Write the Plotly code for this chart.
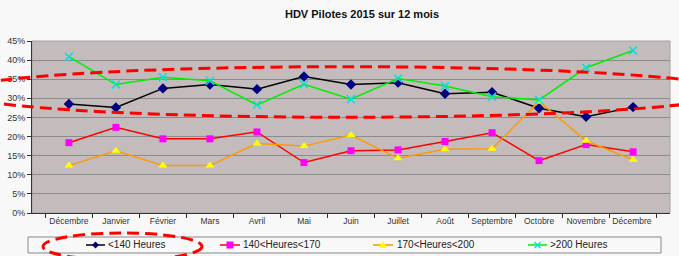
import plotly.graph_objects as go

months = ["Décembre", "Janvier", "Février", "Mars", "Avril", "Mai", "Juin",
          "Juillet", "Août", "Septembre", "Octobre", "Novembre", "Décembre "]
s_lt140 = [0.285, 0.276, 0.326, 0.336, 0.324, 0.357, 0.336, 0.341, 0.312, 0.316, 0.274, 0.252, 0.277]
s_140_170 = [0.184, 0.224, 0.194, 0.194, 0.212, 0.132, 0.163, 0.165, 0.187, 0.210, 0.137, 0.179, 0.160]
s_170_200 = [0.124, 0.163, 0.124, 0.124, 0.182, 0.175, 0.204, 0.143, 0.167, 0.168, 0.292, 0.189, 0.139]
s_gt200 = [0.409, 0.336, 0.355, 0.346, 0.283, 0.337, 0.298, 0.352, 0.332, 0.304, 0.296, 0.380, 0.425]
names = ["<140 Heures", "140<Heures<170", "170<Heures<200", ">200 Heures"]
yticks = [0, 0.05, 0.10, 0.15, 0.20, 0.25, 0.30, 0.35, 0.40, 0.45]

W, H = 679, 256
L, R, T, B = 32, 670, 41, 213

def px(x):
    return (x - L) / (R - L)

def py(y):
    return (B - y) / (B - T)

line_cols = ["#000000", "#ff0000", "#ff9900", "#00ee00"]
mark_cols = ["#000080", "#ff00ff", "#ffff00", "#00e0e0"]
symbols = ["diamond", "square", "triangle-up", "x-thin"]
sizes = [8, 7, 8, 8]
series = [s_lt140, s_140_170, s_170_200, s_gt200]

fig = go.Figure()
for s, nm, lc, mc, sym, sz in zip(series, names, line_cols, mark_cols, symbols, sizes):
    mk = dict(symbol=sym, size=sz, color=mc)
    if sym == "x-thin":
        mk["line"] = dict(color=mc, width=1.5)
    fig.add_trace(go.Scatter(x=months, y=s, name=nm, mode="lines+markers",
                             line=dict(color=lc, width=1.5), marker=mk, showlegend=False))

shapes = [
    dict(type="rect", xref="paper", yref="paper", x0=0, x1=1, y0=0, y1=1,
         line=dict(color="#a0a4a0", width=1), layer="below"),
    dict(type="rect", xref="paper", yref="paper", x0=px(28), x1=px(661), y0=py(253), y1=py(237),
         line=dict(color="#888888", width=1)),
]
annotations = []

# manual legend (positions in pixels)
leg_line_x = [(86, 105), (220, 240), (373, 393), (528, 547)]
leg_text_x = [106, 241, 395, 548]
ly = 245

def path(points, close=True):
    d = "M" + " L".join(f"{px(x):.5f},{py(y):.5f}" for x, y in points)
    return d + (" Z" if close else "")

for i, ((xa, xb), tx) in enumerate(zip(leg_line_x, leg_text_x)):
    shapes.append(dict(type="line", xref="paper", yref="paper", x0=px(xa), x1=px(xb),
                       y0=py(ly), y1=py(ly), line=dict(color=line_cols[i], width=1.5)))
    cx = (xa + xb) / 2
    if symbols[i] == "diamond":
        shapes.append(dict(type="path", xref="paper", yref="paper",
                           path=path([(cx, ly - 3.5), (cx + 3.5, ly), (cx, ly + 3.5), (cx - 3.5, ly)]),
                           fillcolor=mark_cols[i], line=dict(width=0)))
    elif symbols[i] == "square":
        shapes.append(dict(type="path", xref="paper", yref="paper",
                           path=path([(cx - 3.5, ly - 3.5), (cx + 3.5, ly - 3.5), (cx + 3.5, ly + 3.5), (cx - 3.5, ly + 3.5)]),
                           fillcolor=mark_cols[i], line=dict(width=0)))
    elif symbols[i] == "triangle-up":
        shapes.append(dict(type="path", xref="paper", yref="paper",
                           path=path([(cx, ly - 4), (cx + 4, ly + 3), (cx - 4, ly + 3)]),
                           fillcolor=mark_cols[i], line=dict(width=0)))
    else:
        for a, b in [((cx - 3, ly - 3), (cx + 3, ly + 3)), ((cx - 3, ly + 3), (cx + 3, ly - 3))]:
            shapes.append(dict(type="path", xref="paper", yref="paper", path=path([a, b], close=False),
                               line=dict(color=mark_cols[i], width=1.2)))
    annotations.append(dict(text=names[i], x=px(tx), y=py(ly), xref="paper", yref="paper",
                            xanchor="left", yanchor="middle", showarrow=False,
                            font=dict(size=10, color="#222222")))

# red dashed ellipses (annotations drawn on the picture)
shapes += [
    dict(type="circle", xref="paper", yref="paper", x0=px(-43), x1=px(733), y0=py(117.3), y1=py(66.7),
         line=dict(color="#ff0000", width=3, dash="12px,6px")),
    dict(type="circle", xref="paper", yref="paper", x0=px(43), x1=px(202), y0=py(260), y1=py(233),
         line=dict(color="#ff0000", width=3, dash="12px,6px")),
]

fig.update_layout(
    width=W, height=H,
    margin=dict(l=L, r=W - R, t=T, b=H - B),
    paper_bgcolor="#f8f8f8",
    plot_bgcolor="#c4bcbc",
    showlegend=False,
    font=dict(family="Liberation Sans, Arial, sans-serif", size=9, color="#333333"),
    title=dict(text="<b>HDV Pilotes 2015 sur 12 mois</b>", x=362 / W, xref="container",
               xanchor="center", y=1 - 14 / H, yref="container", yanchor="middle",
               font=dict(size=11, color="#111111")),
    xaxis=dict(type="category", tickson="boundaries", ticks="outside", ticklen=4,
               tickcolor="#333333", showline=True, linecolor="#333333", linewidth=1,
               showgrid=False, tickangle=0, tickfont=dict(size=8.5, color="#333333"),
               fixedrange=True, automargin=False),
    yaxis=dict(range=[0, 0.45], tickvals=yticks, tickformat=".0%", ticks="outside",
               ticklen=4, tickcolor="#333333", showline=True, linecolor="#333333",
               linewidth=1, showgrid=True, gridcolor="#8c8c8c", gridwidth=1,
               zeroline=False, tickfont=dict(size=9, color="#333333"), fixedrange=True,
               automargin=False),
    shapes=shapes,
    annotations=annotations,
)

fig.write_html("out.html")
